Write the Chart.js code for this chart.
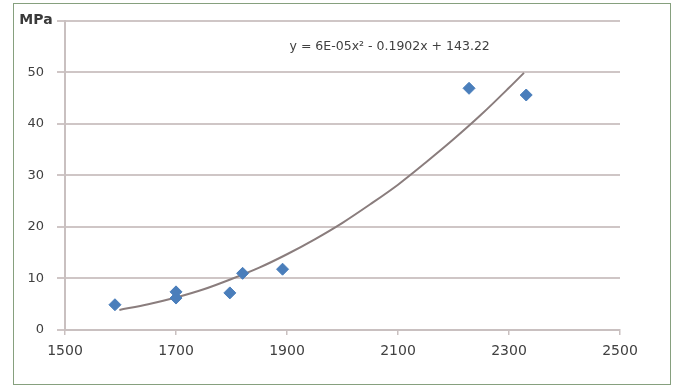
<!DOCTYPE html>
<html>
<head>
<meta charset="utf-8">
<script src="https://cdn.jsdelivr.net/npm/chart.js@4/dist/chart.umd.min.js"></script>
<style>
  body { margin: 0; background: #fff; }
  #cadre { position: absolute; left: 13px; top: 3px; width: 656px; height: 380px; border: 1.5px solid #86a07e; }
  #grafico { position: absolute; left: 0; top: 0; }
</style>
</head>
<body>
<div id="cadre"></div>
<canvas id="grafico" width="674" height="386"></canvas>
<script>
// mesures (x, MPa)
const mesuresX = [1590, 1700, 1700, 1797, 1820, 1892, 2228, 2331];
const mesuresY = [4.9, 7.4, 6.2, 7.2, 11.0, 11.8, 46.9, 45.6];
// courbe de tendance
const tendanceX = [1598, 1650, 1700, 1750, 1800, 1850, 1900, 1950, 2000, 2050, 2100, 2150, 2200, 2250, 2300, 2327];
const tendanceY = [3.9, 5.0, 6.3, 7.9, 9.9, 12.1, 14.7, 17.6, 20.8, 24.4, 28.2, 32.5, 37.0, 41.8, 47.0, 49.9];
const ticksX = [1500, 1700, 1900, 2100, 2300, 2500];
const ticksY = [0, 10, 20, 30, 40, 50, 60];
const equation = 'y = 6E-05x² - 0.1902x + 143.22';
const uniteY = 'MPa';

const ctx = document.getElementById('grafico');

// textes libres : unité et équation
const textes = {
    id: 'textes',
    afterDatasetsDraw(chart) {
        const c = chart.ctx;
        const sx = chart.scales.x, sy = chart.scales.y;
        c.save();
        c.fillStyle = '#3a3a3a';
        c.font = 'bold 14px "DejaVu Sans"';
        c.textAlign = 'center';
        c.textBaseline = 'middle';
        c.fillText(uniteY, 36, sy.getPixelForValue(60));
        c.font = '12.5px "DejaVu Sans"';
        c.fillStyle = '#404040';
        c.fillText(equation, sx.getPixelForValue(2085), sy.getPixelForValue(55));
        c.restore();
    }
};

new Chart(ctx, {
    type: 'scatter',
    data: {
        datasets: [{
            label: 'mesures',
            data: mesuresX.map((x, i) => ({ x: x, y: mesuresY[i] })),
            pointStyle: 'rectRot',
            pointRadius: 6,
            backgroundColor: '#4a7ebb',
            borderColor: '#4a7ebb',
            order: 1
        }, {
            label: 'tendance',
            data: tendanceX.map((x, i) => ({ x: x, y: tendanceY[i] })),
            showLine: true,
            pointRadius: 0,
            borderColor: '#8a7d7d',
            borderWidth: 2,
            cubicInterpolationMode: 'monotone',
            order: 2
        }]
    },
    options: {
        responsive: false,
        animation: false,
        layout: { padding: { left: 0, right: 54, top: 14, bottom: 0 } },
        plugins: {
            legend: { display: false },
            tooltip: { enabled: false }
        },
        scales: {
            x: {
                type: 'linear',
                min: 1500,
                max: 2500,
                afterBuildTicks: s => { s.ticks = ticksX.map(v => ({ value: v })); },
                afterFit: s => { s.height = 56; },
                grid: { drawOnChartArea: false, drawTicks: true, tickLength: 5, color: '#c9c0c0', lineWidth: 1.5 },
                border: { color: '#c9c0c0', width: 2 },
                ticks: {
                    color: '#404040',
                    font: { family: 'DejaVu Sans', size: 14 },
                    padding: 8,
                    maxRotation: 0,
                    callback: v => String(v)
                }
            },
            y: {
                min: 0,
                max: 60,
                afterBuildTicks: s => { s.ticks = ticksY.map(v => ({ value: v })); },
                afterFit: s => { s.width = 65; },
                grid: { color: '#cfc6c6', lineWidth: 2, tickLength: 8 },
                border: { color: '#c9c0c0', width: 2 },
                ticks: {
                    color: '#404040',
                    font: { family: 'DejaVu Sans', size: 13 },
                    padding: 13,
                    callback: v => v === 60 ? '' : String(v)
                }
            }
        }
    },
    plugins: [textes]
});
</script>
</body>
</html>
